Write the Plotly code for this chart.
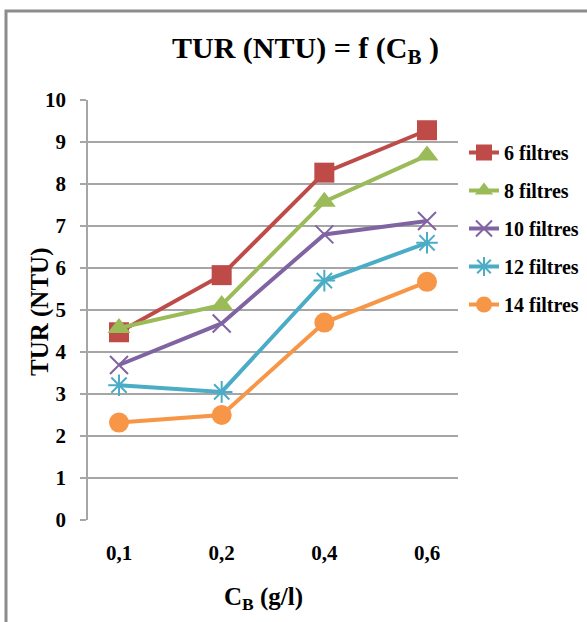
import plotly.graph_objects as go

categories = ["0,1", "0,2", "0,4", "0,6"]
series_names = ["6 filtres", "8 filtres", "10 filtres", "12 filtres", "14 filtres"]
s6 = [4.47, 5.83, 8.27, 9.28]
s8 = [4.57, 5.12, 7.58, 8.68]
s10 = [3.69, 4.68, 6.80, 7.12]
s12 = [3.21, 3.05, 5.70, 6.60]
s14 = [2.32, 2.50, 4.70, 5.67]
y_ticks = list(range(0, 11))

colors = ["#BE4B48", "#9BBB59", "#8064A2", "#4BACC6", "#F79646"]
symbols = ["square", "triangle-up", "x-thin", "asterisk", "circle"]
sizes = [20, 20, 18, 18, 20]
values = [s6, s8, s10, s12, s14]

W, H = 587, 622
L, R, T, B = 88, 458, 100, 520

def px(x):
    return (x - L) / (R - L)

def py(y):
    return (B - y) / (B - T)

fig = go.Figure()
for name, vals, c, sym, sz in zip(series_names, values, colors, symbols, sizes):
    thin = sym in ("x-thin", "asterisk")
    fig.add_trace(go.Scatter(
        x=categories, y=vals, name=name, mode="lines+markers",
        legendgroup=name,
        line=dict(color=c, width=4),
        marker=dict(symbol=sym, size=sz, color=c,
                    line=dict(color=c, width=2 if thin else 0)),
    ))

serif = "Liberation Serif, Times New Roman, DejaVu Serif, serif"
fig.update_layout(
    width=W, height=H,
    margin=dict(l=L, r=W - R, t=T, b=H - B, autoexpand=False),
    paper_bgcolor="white", plot_bgcolor="white",
    font=dict(family=serif, color="black"),
    showlegend=True,
    legend=dict(x=px(464), y=py(133), xanchor="left", yanchor="top",
                font=dict(family=serif, size=20, weight="bold"),
                tracegroupgap=9, bgcolor="rgba(0,0,0,0)"),
    xaxis=dict(type="category", showgrid=False, showline=False, zeroline=False,
               ticks="", tickfont=dict(family=serif, size=21, weight="bold"),
               ticklabelstandoff=18),
    yaxis=dict(range=[0, 10], tickvals=y_ticks, showgrid=True,
               gridcolor="#A6A6A6", gridwidth=1.5,
               showline=True, linecolor="#A6A6A6", linewidth=1.5,
               zeroline=False, ticks="outside", ticklen=6, tickcolor="#A6A6A6",
               tickwidth=1.5, tickfont=dict(family=serif, size=21, weight="bold"),
               ticklabelstandoff=10),
    shapes=[
        dict(type="rect", xref="paper", yref="paper",
             x0=px(6), x1=px(640), y0=py(680), y1=py(11),
             line=dict(color="#8C8C8C", width=3), layer="below"),
    ],
    annotations=[
        dict(text="<b>TUR (NTU) = f (C<sub>B</sub> )</b>", xref="paper", yref="paper",
             x=px(305), y=py(50), xanchor="center", yanchor="middle", showarrow=False,
             font=dict(family=serif, size=30)),
        dict(text="<b>TUR (NTU)</b>", xref="paper", yref="paper",
             x=px(40), y=py(312), xanchor="center", yanchor="middle", showarrow=False,
             textangle=-90, font=dict(family=serif, size=25)),
        dict(text="<b>C<sub>B</sub> (g/l)</b>", xref="paper", yref="paper",
             x=px(263), y=py(598), xanchor="center", yanchor="middle", showarrow=False,
             font=dict(family=serif, size=25)),
    ],
)

fig.write_html("out.html")
